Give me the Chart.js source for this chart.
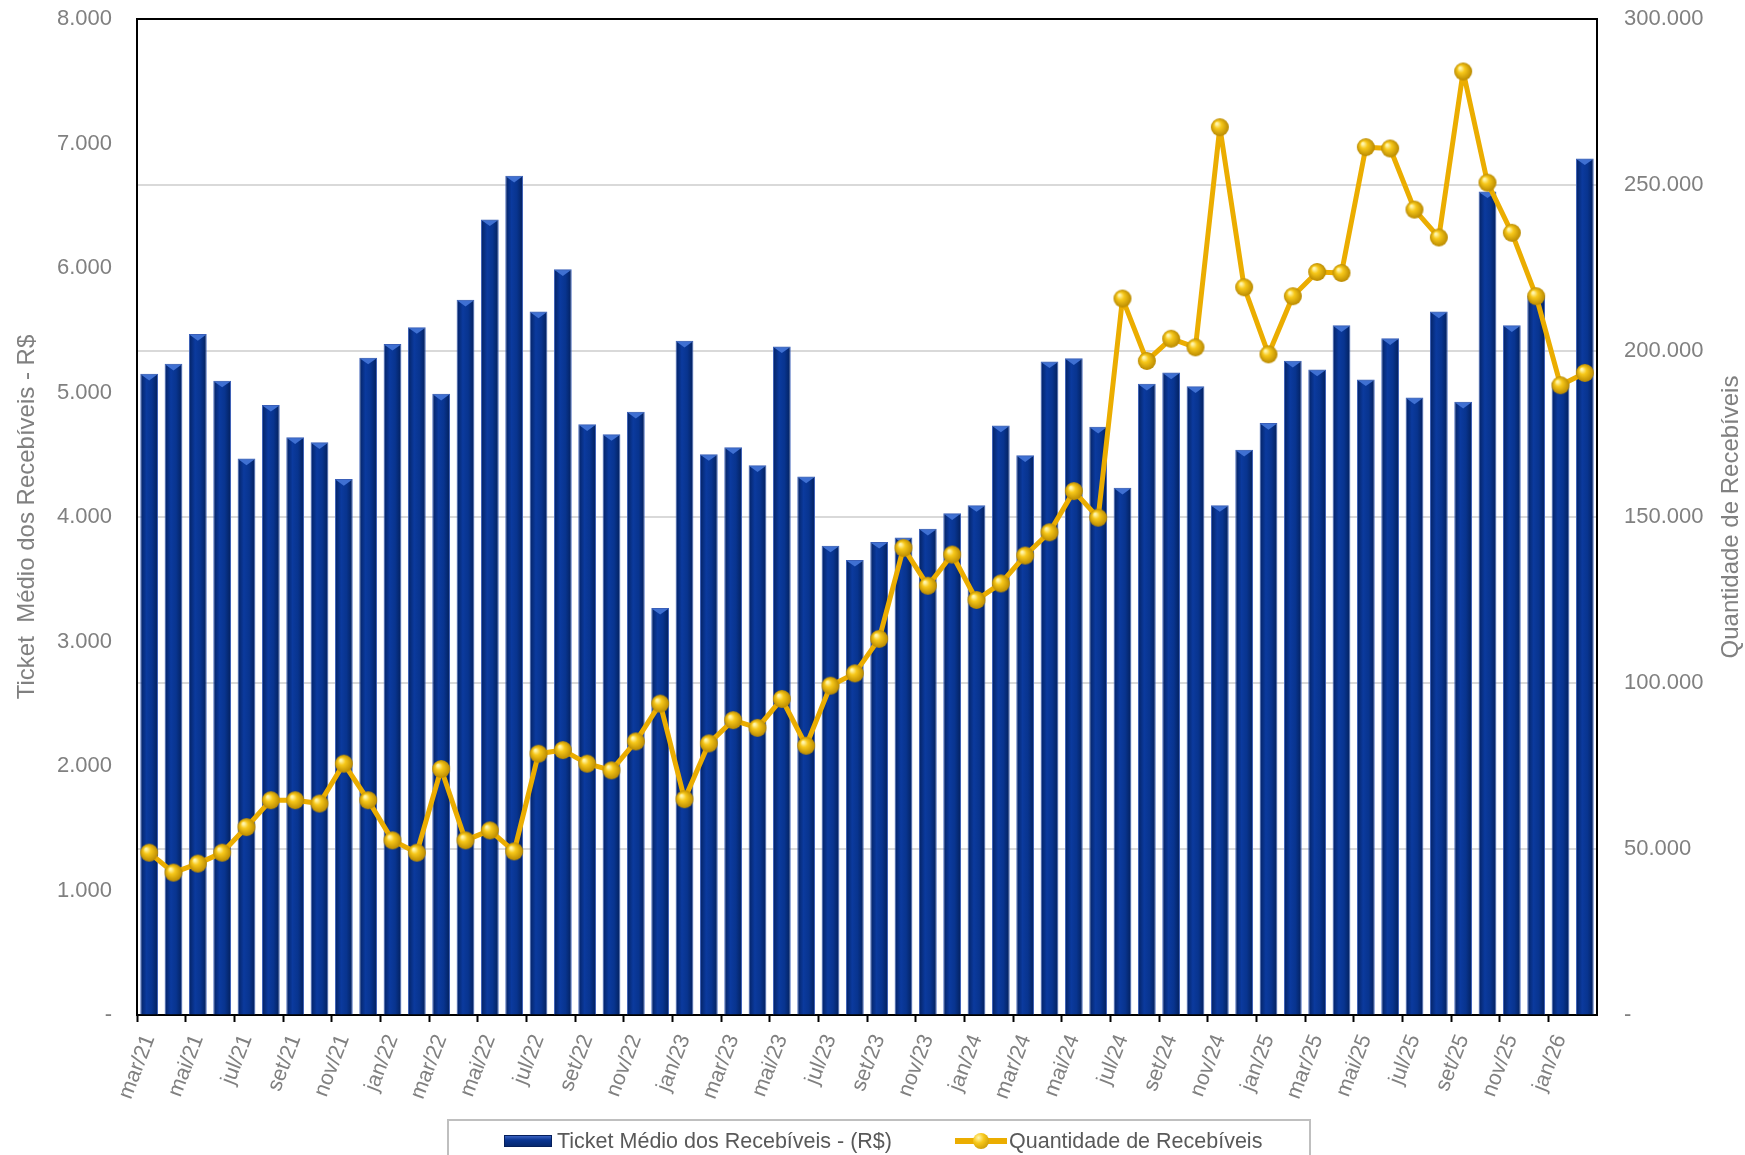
<!DOCTYPE html>
<html lang="pt-BR">
<head>
<meta charset="UTF-8">
<title>Ticket Médio e Quantidade de Recebíveis</title>
<script src="https://cdn.jsdelivr.net/npm/chart.js@4.4.1/dist/chart.umd.min.js"></script>
<style>
  body { margin: 0; background: #fff; overflow: hidden; font-family: 'Liberation Sans', Arial, sans-serif; }
  #wrap { position: relative; width: 1745px; height: 1155px; overflow: hidden; }
  #legenda { position: absolute; left: 447px; top: 1119px; width: 864px; height: 70px; border: 2px solid #bfbfbf; box-sizing: border-box; color: #595959; font-size: 21.5px; }
  #legenda .item { position: absolute; top: 6px; height: 28px; line-height: 28px; white-space: nowrap; }
  .sw-barra { position: absolute; width: 48px; height: 12px; top: 8px; left: 0; background: linear-gradient(#3b63c0, #0a3592 40%, #06286f); border: 1px solid #051f5c; box-sizing: border-box; }
  .sw-linha { position: absolute; width: 52px; height: 6px; top: 11px; left: 0; background: #EBAD00; }
  .sw-ponto { position: absolute; width: 16px; height: 16px; top: 6px; left: 18px; border-radius: 50%; background: radial-gradient(circle at 35% 30%, #fff6b0, #f7c81a 35%, #b98900); }
</style>
</head>
<body>
<div id="wrap">
  <canvas id="grafico" width="1745" height="1155"></canvas>
  <div id="legenda">
    <div class="item" style="left:55px;"><span class="sw-barra"></span><span style="margin-left:53px;">Ticket Médio dos Recebíveis - (R$)</span></div>
    <div class="item" style="left:506px;"><span class="sw-linha"></span><span class="sw-ponto"></span><span style="margin-left:54px;">Quantidade de Recebíveis</span></div>
  </div>
</div>
<script>
// meses (eixo x)
var meses = ['mar/21','abr/21','mai/21','jun/21','jul/21','ago/21','set/21','out/21','nov/21','dez/21',
             'jan/22','fev/22','mar/22','abr/22','mai/22','jun/22','jul/22','ago/22','set/22','out/22','nov/22','dez/22',
             'jan/23','fev/23','mar/23','abr/23','mai/23','jun/23','jul/23','ago/23','set/23','out/23','nov/23','dez/23',
             'jan/24','fev/24','mar/24','abr/24','mai/24','jun/24','jul/24','ago/24','set/24','out/24','nov/24','dez/24',
             'jan/25','fev/25','mar/25','abr/25','mai/25','jun/25','jul/25','ago/25','set/25','out/25','nov/25','dez/25',
             'jan/26','fev/26'];

// Ticket médio dos recebíveis (R$) - barras, eixo esquerdo
var ticket = [5150,5230,5470,5095,4470,4900,4640,4600,4305,5280,
              5390,5525,4990,5745,6390,6740,5650,5990,4745,4665,
              4845,3270,5415,4505,4560,4415,5370,4325,3770,3655,
              3800,3835,3905,4030,4095,4735,4495,5250,5275,4725,
              4235,5070,5160,5050,4095,4540,4755,5255,5185,5540,
              5105,5435,4960,5650,4925,6615,5540,5780,5080,6880];

// Quantidade de recebíveis - linha, eixo direito
var quantidade = [48900,42900,45600,48900,56600,64700,64700,63700,75700,64700,
                  52600,48900,74100,52600,55600,49300,78700,79800,75700,73700,
                  82400,93800,65000,81800,88800,86500,95200,81100,99200,102900,
                  113300,140700,129300,138700,125000,130000,138400,145400,157800,149800,
                  215800,197000,203700,201100,267400,219200,199000,216500,223800,223500,
                  261400,261000,242600,234200,284200,250700,235600,216500,189700,193400];

var tituloEsq = 'Ticket  Médio dos Recebíveis - R$';
var tituloDir = 'Quantidade de Recebíveis';

function milhar(v) {
    if (v === 0) return '-';
    return String(v).replace(/\B(?=(\d{3})+(?!\d))/g, '.');
}

function esfera(r) {
    var c = document.createElement('canvas');
    c.width = c.height = r * 2 + 2;
    var g = c.getContext('2d');
    var cx = r + 1, cy = r + 1;
    var grad = g.createRadialGradient(cx - r * 0.35, cy - r * 0.4, r * 0.1, cx, cy, r);
    grad.addColorStop(0, '#fff6b0');
    grad.addColorStop(0.35, '#f7c81a');
    grad.addColorStop(1, '#b98900');
    g.fillStyle = grad;
    g.beginPath();
    g.arc(cx, cy, r, 0, Math.PI * 2);
    g.fill();
    return c;
}

// barras com leve sombreamento horizontal
function corBarra(c) {
    var x = c.chart.scales.x;
    if (!x || x.width === undefined) return '#07318E';
    var cx = x.getPixelForValue(c.dataIndex);
    var w = (x.width / meses.length) * 0.73 / 2;
    var g = c.chart.ctx.createLinearGradient(cx - w, 0, cx + w, 0);
    g.addColorStop(0, '#042263');
    g.addColorStop(0.35, '#0b3a9e');
    g.addColorStop(0.65, '#08348f');
    g.addColorStop(1, '#03205c');
    return g;
}

// pequeno triangulo claro no topo de cada barra (efeito 3D do original)
var topoBarras = {
    id: 'topoBarras',
    afterDatasetDraw: function(chart, args) {
        if (args.meta.type !== 'bar') return;
        var c = chart.ctx;
        c.save();
        c.fillStyle = '#3f70d2';
        args.meta.data.forEach(function(b) {
            var h = b.width / 2;
            c.beginPath();
            c.moveTo(b.x - h + 1, b.y + 1);
            c.lineTo(b.x + h - 1, b.y + 1);
            c.lineTo(b.x, b.y + h * 0.75);
            c.closePath();
            c.fill();
        });
        c.restore();
    }
};

// titulo do eixo direito lido de baixo para cima
var tituloDireita = {
    id: 'tituloDireita',
    afterDraw: function(chart) {
        var c = chart.ctx;
        var a = chart.chartArea;
        c.save();
        c.translate(1731, (a.top + a.bottom) / 2);
        c.rotate(-Math.PI / 2);
        c.fillStyle = '#808080';
        c.font = '24px "Liberation Sans", Arial, sans-serif';
        c.textAlign = 'center';
        c.textBaseline = 'middle';
        c.fillText(tituloDir, 0, 0);
        c.restore();
    }
};

var cinza = '#808080';
var fonte = "'Liberation Sans', Arial, sans-serif";
var invisivel = 'rgba(0,0,0,0)';

var ctx = document.getElementById('grafico').getContext('2d');
window.grafico = new Chart(ctx, {
    type: 'bar',
    data: {
        labels: meses,
        datasets: [{
            type: 'line',
            label: tituloDir,
            data: quantidade,
            yAxisID: 'y1',
            borderColor: '#EBAD00',
            borderWidth: 5,
            borderJoinStyle: 'round',
            pointStyle: esfera(9),
            pointRadius: 9,
            pointHoverRadius: 9,
            tension: 0,
            order: 0
        }, {
            type: 'bar',
            label: 'Ticket Médio dos Recebíveis - (R$)',
            data: ticket,
            yAxisID: 'y',
            backgroundColor: corBarra,
            borderColor: '#3a5fb8',
            borderWidth: 1,
            categoryPercentage: 1,
            barPercentage: 0.73,
            order: 1
        }]
    },
    options: {
        responsive: false,
        animation: false,
        layout: { padding: { top: 19, left: 0, right: 0, bottom: 0 } },
        plugins: {
            legend: { display: false },
            tooltip: { enabled: false }
        },
        scales: {
            x: {
                afterFit: function(s) { s.height = 140; },
                grid: {
                    offset: true,
                    drawOnChartArea: false,
                    drawTicks: true,
                    tickLength: 7,
                    tickWidth: 2,
                    tickColor: function(c) { return c.index % 2 === 0 ? '#000' : invisivel; }
                },
                border: { color: '#000', width: 2 },
                ticks: {
                    autoSkip: false,
                    maxRotation: 69,
                    minRotation: 69,
                    padding: 9,
                    color: cinza,
                    font: { size: 21.5, family: fonte },
                    callback: function(v, i) { return i % 2 === 0 ? meses[i] : ''; }
                }
            },
            y: {
                position: 'left',
                min: 0,
                max: 8000,
                afterFit: function(s) { s.width = 137; },
                grid: { display: true, drawOnChartArea: false, drawTicks: true, tickLength: 24, tickColor: invisivel },
                border: { color: '#000', width: 2 },
                ticks: {
                    stepSize: 1000,
                    padding: 1,
                    color: cinza,
                    font: { size: 22, family: fonte },
                    callback: function(v) { return milhar(v); }
                },
                title: {
                    display: true,
                    text: tituloEsq,
                    color: cinza,
                    font: { size: 24, family: fonte },
                    padding: { top: 13, bottom: 0 }
                }
            },
            y1: {
                position: 'right',
                min: 0,
                max: 300000,
                afterFit: function(s) { s.width = 148; },
                grid: {
                    drawTicks: true,
                    tickLength: 26,
                    tickColor: invisivel,
                    lineWidth: 2,
                    color: function(c) { return c.tick && c.tick.value === 300000 ? '#000' : '#d9d9d9'; }
                },
                border: { color: '#000', width: 2 },
                ticks: {
                    stepSize: 50000,
                    padding: 1,
                    color: cinza,
                    font: { size: 22, family: fonte },
                    callback: function(v) { return milhar(v); }
                }
            }
        }
    },
    plugins: [topoBarras, tituloDireita]
});
</script>
</body>
</html>
